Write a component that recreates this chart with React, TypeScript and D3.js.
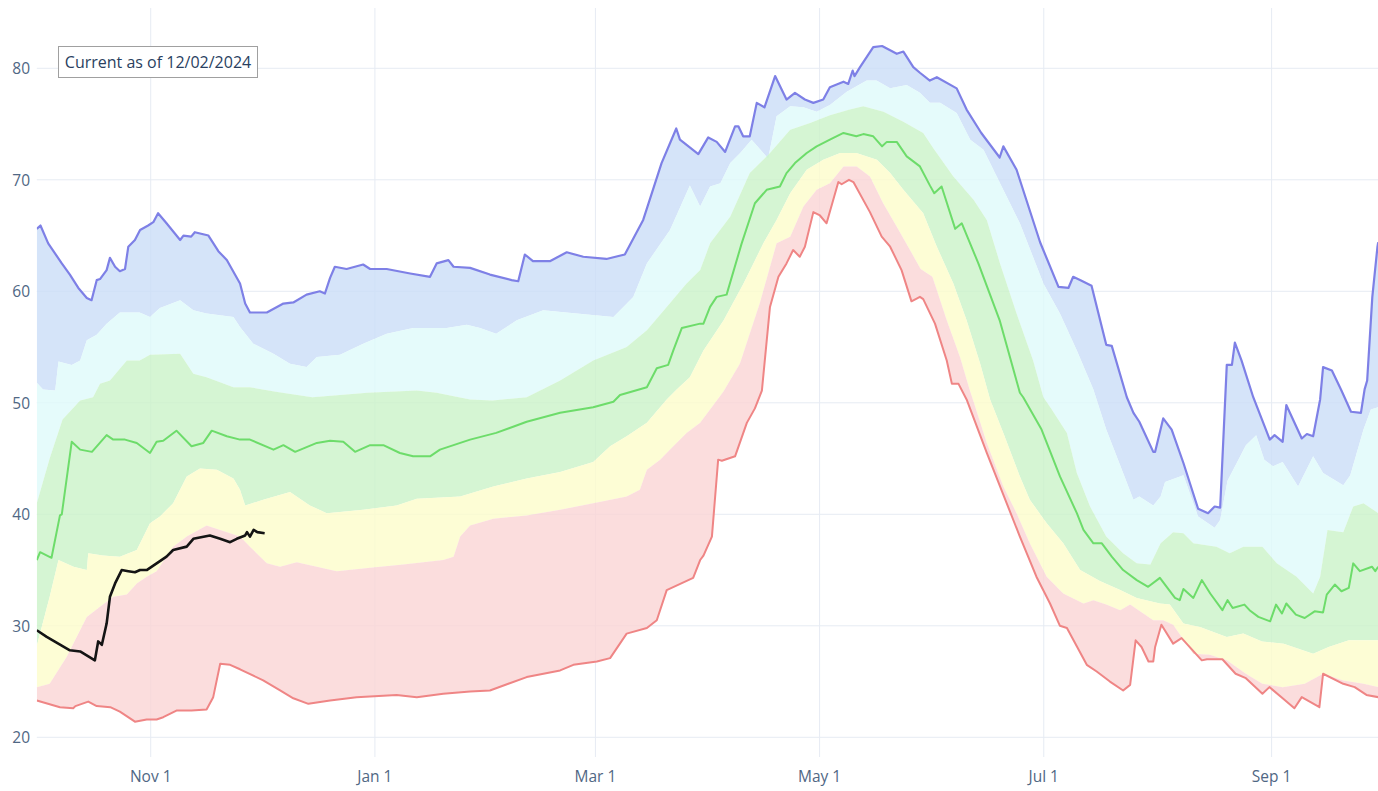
import React, { useEffect } from "react";
import * as d3 from "d3";

type P = [number, number]; // [day of water year (0 = Oct 1), value]

const START = Date.UTC(2023, 9, 1);
const toDate = (d: number) => new Date(START + d * 86400000);

const yTicks = [20, 30, 40, 50, 60, 70, 80];
const annotationText = "Current as of 12/02/2024";

const maxSeries: P[] = [
  [0, 65.6], [1, 65.9], [3.1, 64.3], [6.8, 62.5], [9, 61.5], [11.3, 60.3], [13.6, 59.4], [14.9, 59.2], [16.3, 61.0], [17.2, 61.1],
  [19, 61.9], [19.9, 63.0], [21.3, 62.2], [22.6, 61.8], [24, 62.0], [24.9, 64.0], [26.7, 64.6], [28.1, 65.5], [30.3, 65.9], [31.7, 66.2],
  [33, 67.0], [35.3, 66.1], [39, 64.6], [39.9, 65.0], [42, 64.9], [43, 65.3], [46.7, 65.0], [49.4, 63.6], [51.7, 62.8], [55.3, 60.7],
  [56.7, 58.9], [58, 58.1], [62.6, 58.1], [67.1, 58.9], [69.8, 59.0], [73.4, 59.7], [77, 60.0], [78.4, 59.8], [79.8, 61.2], [81.1, 62.2],
  [84.3, 62.0], [88.8, 62.4], [90.7, 62.0], [95.2, 62.0], [101.6, 61.6], [107, 61.3], [108.8, 62.5], [112, 62.8], [113.4, 62.2], [117.9, 62.1],
  [123.3, 61.5], [129.2, 61.0], [131, 60.9], [132.8, 63.3], [135, 62.7], [139.6, 62.7], [144.2, 63.5], [148.7, 63.1], [155, 62.9], [160, 63.3],
  [165, 66.4], [170, 71.5], [174, 74.6], [175, 73.6], [180, 72.3], [182.7, 73.8], [185, 73.4], [187.3, 72.5], [190, 74.8], [190.9, 74.8],
  [192.2, 73.9], [194, 73.9], [195.9, 76.9], [198, 76.5], [200.9, 79.3], [204, 77.2], [206.3, 77.8], [209, 77.2], [211.3, 76.9], [214, 77.2],
  [215.8, 78.3], [219.5, 78.8], [220.8, 78.6], [222, 79.8], [222.5, 79.3], [224, 80.1], [227.6, 81.9], [230, 82.0], [234, 81.3], [235.8, 81.5],
  [238.5, 80.1], [240.3, 79.6], [243, 78.9], [244.9, 79.2], [250.3, 78.2], [253, 76.3], [257, 74.2], [262, 72.0], [263, 73.0], [266.6, 70.9],
  [273, 64.4], [278, 60.4], [280.7, 60.3], [282, 61.3], [284, 61.0], [287, 60.5], [291, 55.2], [292.5, 55.1], [296.6, 50.5], [298.4, 49.1],
  [300, 48.3], [303.8, 45.6], [304.3, 45.6], [306.5, 48.6], [308.8, 47.6], [312, 44.6], [316, 40.5], [318.7, 40.1], [320.5, 40.7], [322, 40.6],
  [323.8, 53.4], [325.2, 53.4], [326, 55.4], [327.8, 53.8], [331, 50.5], [335.5, 46.7], [336.8, 47.1], [339, 46.5], [340, 49.8], [344.2, 46.8],
  [345.6, 47.2], [347.3, 47.0], [349.2, 50.3], [350, 53.2], [352.4, 52.9], [355, 51.1], [357.6, 49.2], [360.3, 49.1], [361.3, 51.2], [362, 52.0],
  [363.4, 59.5], [364.8, 64.0], [365, 64.4],
];

const p90Series: P[] = [
  [0, 51.8], [1.7, 51.2], [5, 51.1], [5.9, 53.7], [9.5, 53.4], [11.8, 53.8], [13.6, 55.6], [16.3, 56.1], [19, 57.1], [22.6, 58.1],
  [28, 58.1], [30.8, 57.7], [33.5, 58.5], [39, 59.2], [42.6, 58.3], [46.2, 58.0], [53.5, 57.7], [55.3, 56.8], [58.9, 55.3], [64.4, 54.4],
  [68.9, 53.5], [73.4, 53.2], [76.2, 54.1], [82.5, 54.3], [88.8, 55.3], [95.2, 56.2], [102.4, 56.7], [111.5, 56.7], [117, 57.0], [120.6, 56.7],
  [125, 56.2], [130.6, 57.4], [137.8, 58.3], [146.9, 58.0], [156.9, 57.7], [162.3, 59.5], [166, 62.5], [172.3, 65.5], [177.7, 69.5], [180.5, 67.6],
  [183.2, 69.4], [186, 69.7], [188.7, 71.5], [191.4, 72.4], [194.5, 73.6], [199, 71.9], [201.3, 75.7], [205, 76.6], [208.6, 76.5], [212.2, 76.1],
  [215.8, 76.7], [220.4, 77.9], [225.8, 78.9], [228.5, 78.9], [232.2, 78.2], [236.7, 78.5], [240.3, 77.8], [243, 76.9], [245.8, 76.9], [250.3, 76.0],
  [254, 73.6], [257.6, 72.7], [261.2, 70.3], [267.5, 66.1], [273.9, 60.7], [278.4, 58.0], [283, 54.7], [287.5, 51.2], [291, 47.6], [295.6, 43.7],
  [298.4, 41.3], [300, 41.6], [303.8, 40.8], [305.8, 41.6], [307, 42.9], [312, 43.5], [316, 39.8], [320.5, 38.8], [322, 39.5], [324, 43.0],
  [329, 46.2], [331.8, 47.1], [334, 44.9], [336.4, 44.3], [339, 44.7], [343.2, 42.5], [347.3, 45.2], [350, 43.7], [355.5, 42.6], [357.4, 43.5],
  [361, 47.6], [363, 49.4], [365, 49.6],
];

const p70Series: P[] = [
  [0, 41.0], [3.5, 45.0], [7, 48.5], [11.8, 50.2], [15.3, 50.5], [17.2, 51.7], [19.9, 52.0], [24.5, 53.8], [28, 53.8], [30.8, 54.3],
  [39, 54.4], [42.6, 52.6], [46.2, 52.3], [53.5, 51.4], [58, 51.4], [65, 51.0], [75, 50.5], [90, 50.9], [103.4, 51.1], [108.8, 50.9],
  [117.9, 50.3], [124, 50.2], [133.3, 50.5], [142.4, 52.0], [151.4, 53.8], [160.5, 55.0], [166, 56.5], [171.4, 58.6], [176.8, 60.7], [180.5, 61.9],
  [183.2, 64.3], [188.7, 66.7], [194, 70.6], [199.5, 72.4], [205, 74.5], [210.4, 75.1], [215.8, 75.8], [221.2, 76.3], [224.9, 76.6], [230.4, 76.1],
  [235.8, 75.2], [241.2, 74.2], [244, 72.8], [249.4, 70.3], [254.9, 68.2], [258.5, 66.4], [262.1, 62.5], [266.6, 58.0], [271.1, 53.8], [273.9, 50.5],
  [276, 49.5], [280.3, 47.3], [283, 43.7], [286.6, 40.7], [291, 38.0], [295.6, 36.5], [299.3, 35.6], [303, 35.5], [305.8, 37.4], [309.2, 38.4],
  [312, 38.3], [314.7, 37.4], [321, 37.1], [324.6, 36.5], [328.3, 37.1], [333.5, 37.1], [337.4, 35.6], [342.8, 34.4], [347.3, 32.9], [349.2, 34.4],
  [351.2, 38.6], [355.5, 38.4], [358.2, 40.7], [361, 41.0], [365, 40.1],
];

const medianSeries: P[] = [
  [0, 35.9], [0.9, 36.6], [4, 36.1], [6.3, 39.9], [6.8, 40.0], [9.5, 46.5], [11.8, 45.8], [15, 45.6], [19, 47.1], [20.8, 46.7],
  [24, 46.7], [27.2, 46.4], [30.8, 45.5], [32.6, 46.5], [34.4, 46.6], [38, 47.5], [42.1, 46.1], [45.3, 46.4], [47.6, 47.5], [51.7, 47.0],
  [55.3, 46.7], [58, 46.7], [64.4, 45.8], [67.1, 46.2], [70.3, 45.6], [76.2, 46.4], [79.8, 46.6], [83.4, 46.5], [86.6, 45.6], [90.7, 46.2],
  [94.3, 46.2], [98.8, 45.5], [102.4, 45.2], [107, 45.2], [109.7, 45.8], [117.9, 46.7], [125, 47.3], [133.3, 48.3], [142.4, 49.1], [151.4, 49.6],
  [156.9, 50.1], [158.7, 50.7], [166, 51.4], [168.7, 53.1], [171.8, 53.4], [173.2, 54.7], [175.5, 56.7], [180.5, 57.1], [181.4, 57.1], [183.2, 58.6],
  [185, 59.5], [187.7, 59.7], [191.8, 64.3], [195.4, 67.9], [198.6, 69.1], [202.2, 69.4], [204, 70.6], [206.3, 71.5], [209.5, 72.4], [212.2, 73.0],
  [215.8, 73.6], [219.5, 74.2], [223, 73.9], [224.9, 74.1], [227.6, 73.9], [230, 73.0], [231.3, 73.4], [234, 73.4], [236.7, 72.1], [240.3, 71.2],
  [243, 69.5], [244.2, 68.8], [246.2, 69.4], [249.9, 65.6], [251.7, 66.1], [256.2, 62.5], [262, 57.4], [267.5, 50.9], [268.4, 50.5], [273.4, 47.6],
  [278.4, 43.4], [283, 40.1], [284.8, 38.6], [287.5, 37.4], [289.8, 37.4], [292.5, 36.2], [295.6, 35.0], [299.3, 34.1], [302.4, 33.5], [305.6, 34.3],
  [309.7, 32.5], [311, 32.3], [312, 33.3], [314.7, 32.5], [317, 34.1], [319.3, 32.9], [322.6, 31.4], [324, 32.3], [325.4, 31.6], [328.6, 31.9],
  [330, 31.4], [332.4, 30.8], [335.6, 30.4], [337.2, 31.9], [338.8, 31.1], [340, 32.0], [342.6, 31.0], [345, 30.7], [347.7, 31.3], [350, 31.2],
  [351, 32.8], [353.2, 33.7], [355, 33.1], [357, 33.4], [358.2, 35.6], [360, 34.9], [363.3, 35.3], [364.2, 34.9], [365, 35.3],
];

const p30Series: P[] = [
  [0, 28.2], [3.5, 32.6], [5.9, 35.9], [10, 35.3], [13.6, 35.0], [14, 36.5], [18, 36.3], [22.6, 36.2], [27.2, 36.8], [30.8, 39.2],
  [33.5, 39.8], [37.1, 41.0], [40.8, 43.4], [44.4, 44.1], [49, 44.0], [53.5, 43.2], [55.3, 42.2], [56.7, 40.8], [61.6, 41.3], [68.9, 42.0],
  [74.3, 40.8], [78.9, 40.1], [88.8, 40.4], [97.9, 40.8], [103.4, 41.4], [115.2, 41.6], [124.2, 42.5], [133.3, 43.2], [142.4, 43.8], [151.4, 44.7],
  [156, 46.1], [160.5, 47.0], [166, 48.2], [171.4, 50.3], [174.1, 51.2], [177.7, 52.3], [181.4, 54.7], [186.9, 57.4], [192.3, 60.7], [197.7, 64.3],
  [201.3, 66.4], [205, 68.8], [209.5, 70.9], [214, 71.8], [218.6, 72.4], [223, 72.4], [228.6, 71.8], [232.2, 70.6], [235.8, 69.1], [241.2, 67.0],
  [244.9, 64.0], [249.4, 60.7], [253, 57.4], [256.7, 53.5], [259.4, 50.3], [263, 47.3], [267.5, 43.4], [270.2, 41.3], [274.8, 39.2], [279.3, 37.4],
  [283.9, 35.0], [289.4, 34.0], [294.8, 33.2], [299.3, 32.5], [305.6, 32.0], [308.3, 31.9], [312, 30.2], [316.5, 29.9], [323.8, 29.0], [328.3, 29.3],
  [333.4, 28.6], [339.3, 28.4], [347.3, 27.5], [351.5, 28.1], [357, 28.7], [365, 28.7],
];

const p10Series: P[] = [
  [0, 24.5], [3.5, 24.8], [8.1, 27.2], [13.6, 30.8], [17.2, 31.7], [20.8, 32.6], [24.5, 32.8], [27.2, 33.8], [29.9, 34.4], [32.6, 34.9],
  [37.1, 37.1], [40.8, 38.0], [46.2, 39.0], [49.9, 38.6], [55.3, 38.0], [58, 37.1], [62.6, 35.6], [66.2, 35.3], [70.7, 35.7], [76.2, 35.3],
  [81.6, 34.9], [90.7, 35.2], [99.7, 35.5], [110.6, 35.9], [113.4, 36.2], [115.2, 38.0], [117.9, 39.0], [124.2, 39.6], [133.3, 39.9], [142.4, 40.4],
  [151.4, 41.0], [160.5, 41.6], [164.1, 42.2], [166, 44.0], [169.6, 44.9], [173.2, 46.1], [176.8, 47.3], [180.5, 48.2], [183.2, 49.4], [186.8, 51.0],
  [191.3, 53.5], [196.7, 58.9], [201.3, 64.3], [205, 64.9], [208.6, 67.6], [212.2, 69.1], [215.8, 69.7], [219.5, 71.2], [223.1, 71.2], [226.7, 70.3],
  [230.3, 67.9], [234, 65.8], [237.6, 63.7], [240.5, 62.0], [243.7, 61.3], [247.6, 57.4], [251.2, 54.1], [253.9, 51.1], [255, 50.0], [258.5, 46.4],
  [263, 42.5], [266.6, 40.1], [270.2, 37.4], [274.8, 34.4], [279.3, 32.9], [284.8, 32.0], [287.5, 32.3], [291, 31.9], [294.8, 31.4], [297.5, 31.9],
  [303.8, 30.5], [306.5, 30.5], [309.2, 30.1], [314.7, 27.5], [319.2, 27.4], [323.8, 26.9], [329, 25.7], [333.5, 24.8], [339, 24.5], [345, 24.8],
  [350, 25.7], [355.5, 25.1], [361, 24.8], [365, 24.5],
];

const minSeries: P[] = [
  [0, 23.3], [6.3, 22.7], [9.9, 22.6], [10.5, 22.8], [14, 23.2], [16.3, 22.8], [20, 22.7], [22.6, 22.3], [26.7, 21.4], [29.9, 21.6],
  [32.6, 21.6], [34.4, 21.8], [38, 22.4], [42.1, 22.4], [46.2, 22.5], [48, 23.6], [49.9, 26.6], [52.6, 26.5], [55.3, 26.1], [61.6, 25.1],
  [66.2, 24.2], [69.8, 23.5], [73.9, 23.0], [79.8, 23.3], [87, 23.6], [97.9, 23.8], [103.4, 23.6], [110.6, 23.9], [117.9, 24.1], [123.3, 24.2],
  [133.3, 25.4], [142.4, 26.0], [146, 26.5], [152.4, 26.8], [156, 27.1], [160.5, 29.3], [166, 29.8], [168.7, 30.5], [171.4, 33.2], [178.6, 34.3],
  [180.5, 35.9], [181.4, 36.3], [183.7, 38.0], [185.4, 44.9], [186.4, 44.8], [190, 45.2], [193.2, 48.2], [195.4, 49.5], [197.3, 51.1], [199.5, 58.6],
  [201.8, 61.3], [204, 62.5], [205.8, 63.7], [207.6, 63.1], [209, 64.0], [211.3, 67.1], [213.1, 66.8], [214.9, 66.1], [218.1, 69.8], [219, 69.6],
  [221, 70.0], [222.2, 69.8], [226.7, 67.1], [229.9, 64.9], [232.2, 64.0], [235.3, 61.9], [238, 59.1], [240.3, 59.5], [241.2, 59.3], [244.4, 57.1],
  [247.6, 53.8], [249, 51.7], [250.8, 51.7], [253, 50.3], [258.5, 45.5], [263.9, 41.0], [267.5, 38.0], [272, 34.4], [275.7, 32.0], [278.4, 30.0],
  [280.3, 29.8], [285.7, 26.5], [288.4, 25.9], [292, 25.0], [295.6, 24.2], [297.5, 24.7], [299, 28.7], [300.6, 28.1], [302.5, 26.8], [303.8, 26.8],
  [304.3, 28.1], [306, 30.1], [309.2, 28.4], [311.5, 28.9], [317, 26.9], [318.4, 27.0], [322.6, 27.0], [326.2, 25.7], [329, 25.3], [333.5, 23.9],
  [335.4, 24.5], [339, 23.5], [342.2, 22.6], [344.2, 23.6], [349, 22.7], [350, 25.7], [355.5, 24.8], [358.6, 24.5], [361.8, 23.8], [365, 23.6],
];

const currentSeries: P[] = [
  [0, 29.6], [2.7, 29.0], [9, 27.8], [11.8, 27.7], [15.8, 26.9], [16.7, 28.6], [17.7, 28.3], [19, 30.2], [19.9, 32.6], [21.3, 33.8],
  [23.1, 35.0], [24.9, 34.9], [26.7, 34.8], [28.1, 35.0], [29.9, 35.0], [32.6, 35.6], [35.3, 36.2], [37.1, 36.8], [40.8, 37.1], [42.6, 37.8],
  [47.1, 38.1], [49.9, 37.8], [52.6, 37.5], [54.4, 37.8], [56.7, 38.1], [57.2, 38.4], [58, 38.0], [59, 38.6], [60, 38.4], [62, 38.3],
];

const W = 1378;
const H = 791;
const LEFT = 36.8;
const RIGHT = 1378.2;
const TOP = 8;
const BOTTOM = 757;

export default function App() {
  useEffect(() => {
    document.body.style.margin = "0";
  }, []);

  const x = d3.scaleUtc().domain([toDate(0), toDate(365)]).range([LEFT, RIGHT]);
  const y = d3.scaleLinear().domain([20, 80]).range([737.3, 68.3]);

  const line = d3
    .line<P>()
    .x((p) => x(toDate(p[0])))
    .y((p) => y(p[1]));

  const band = (upper: P[], lower: P[]) => line([...upper, ...lower.slice().reverse()]) + "Z";

  const xTicks = d3.utcMonth.every(2)!.range(toDate(0), toDate(365));
  const fmt = d3.utcFormat("%b %-d");

  const bands = [
    { u: maxSeries, l: p90Series, fill: "rgb(203,221,248)" },
    { u: p90Series, l: p70Series, fill: "rgb(222,250,250)" },
    { u: p70Series, l: p30Series, fill: "rgb(202,243,200)" },
    { u: p30Series, l: p10Series, fill: "rgb(252,252,202)" },
    { u: p10Series, l: minSeries, fill: "rgb(250,212,212)" },
  ];

  const font = "'Open Sans', 'Noto Sans', Arial, sans-serif";

  return (
    <svg width={W} height={H} style={{ display: "block", background: "#fff" }}>
      <defs>
        <clipPath id="plot">
          <rect x={LEFT} y={TOP} width={RIGHT - LEFT} height={BOTTOM - TOP} />
        </clipPath>
      </defs>
      <g>
        {yTicks.map((t) => (
          <line key={"gy" + t} x1={LEFT} x2={RIGHT} y1={y(t)} y2={y(t)} stroke="#e6ebf3" strokeWidth={1} />
        ))}
        {xTicks.map((t) => (
          <line key={"gx" + t.getTime()} x1={x(t)} x2={x(t)} y1={TOP} y2={BOTTOM} stroke="#e6ebf3" strokeWidth={1} />
        ))}
      </g>
      <g clipPath="url(#plot)">
        {bands.map((b, i) => (
          <path key={"b" + i} d={band(b.u, b.l)} fill={b.fill} fillOpacity={0.8} stroke="none" />
        ))}
        <path d={line(maxSeries) || ""} fill="none" stroke="#7e80e6" strokeWidth={2.2} strokeLinejoin="round" />
        <path d={line(medianSeries) || ""} fill="none" stroke="#6ddc6a" strokeWidth={2} strokeLinejoin="round" />
        <path d={line(minSeries) || ""} fill="none" stroke="#ef8585" strokeWidth={2} strokeLinejoin="round" />
        <path d={line(currentSeries) || ""} fill="none" stroke="#141414" strokeWidth={2.6} strokeLinejoin="round" />
      </g>
      <g fontFamily={font} fontSize={15.5} fill="#506784">
        {yTicks.map((t) => (
          <text key={"ty" + t} x={30} y={y(t)} textAnchor="end" dominantBaseline="central">
            {t}
          </text>
        ))}
        {xTicks.map((t) => (
          <text key={"tx" + t.getTime()} x={x(t)} y={776} textAnchor="middle" dominantBaseline="central">
            {fmt(t)}
          </text>
        ))}
      </g>
      <g fontFamily={font}>
        <rect x={58.5} y={46.5} width={199} height={31} fill="#fff" stroke="#a0a0a0" strokeWidth={1} />
        <text x={158} y={62} textAnchor="middle" dominantBaseline="central" fontSize={16} fill="#2a3f5f">
          {annotationText}
        </text>
      </g>
    </svg>
  );
}
